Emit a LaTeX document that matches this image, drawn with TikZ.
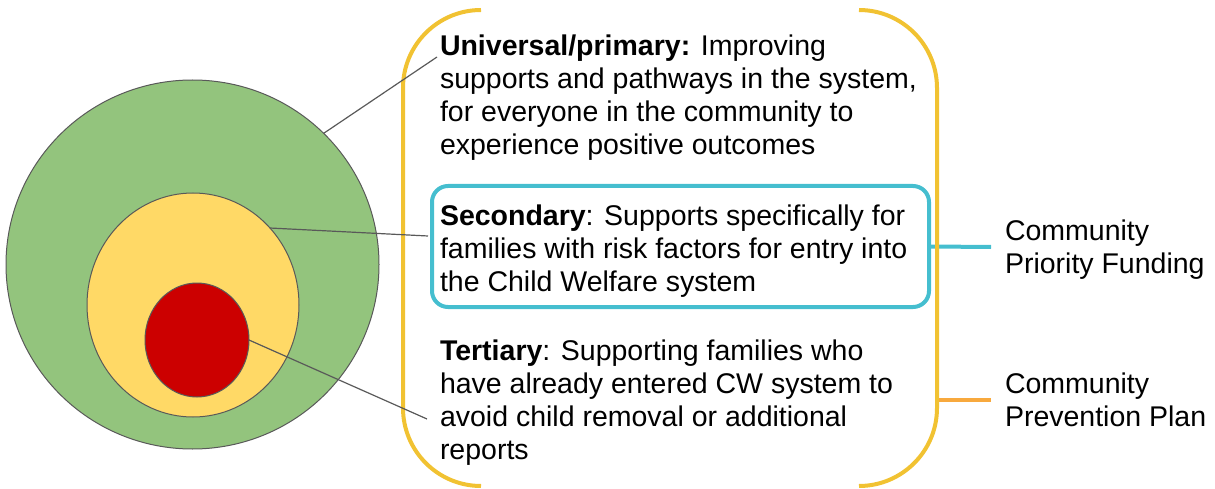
\documentclass[tikz,border=0pt]{standalone}
\usepackage{fontspec}
\setmainfont{Liberation Sans}
\usetikzlibrary{shapes.geometric}
\definecolor{cgreen}{HTML}{93C47D}
\definecolor{cyellow}{HTML}{FFD966}
\definecolor{cred}{HTML}{CC0000}
\definecolor{cedge}{HTML}{595959}
\definecolor{cbracket}{HTML}{F1C232}
\definecolor{cteal}{HTML}{45BECF}
\definecolor{corange}{HTML}{F8A93E}
\begin{document}
\begin{tikzpicture}[x=1pt,y=-1pt,
  ring/.style={ellipse, draw=cedge, line width=1pt, inner sep=0pt, outer sep=0pt},
  conn/.style={draw=cedge, line width=1.2pt},
  txt/.style={anchor=north west, inner sep=0pt, outer sep=0pt, align=left, font=\fontsize{28.5}{33}\selectfont, text=black},
  brace/.style={draw=cbracket, line width=4pt, rounded corners=78pt},
  ]
\useasboundingbox (0,0) rectangle (1215,489);
% nested circles
\node[ring, fill=cgreen, minimum width=373pt, minimum height=369pt] (green) at (192.5,264.5) {};
\node[ring, fill=cyellow, minimum width=212pt, minimum height=224pt] (yellow) at (193,305) {};
\node[ring, fill=cred, minimum width=104pt, minimum height=114pt] (red) at (197,340) {};
% secondary box
\node[draw=cteal, line width=4pt, rounded corners=16pt, minimum width=497pt, minimum height=121pt, inner sep=0pt] (box) at (680.5,246.5) {};
% connectors to labels (under the bracket)
\coordinate (t1) at (991,247);
\coordinate (pb) at (937,400);
\coordinate (t2) at (991,400);
\draw[draw=cteal, line width=4pt] (box.east) -- (t1);
\draw[draw=corange, line width=4pt] (pb) -- (t2);
% brackets
\draw[brace] (481,10) -- (403,10) -- (403,486) -- (481,486);
\draw[brace] (859,10) -- (937,10) -- (937,486) -- (859,486);
% texts
\node[txt] (uni) at (440,35) {\textbf{Universal/primary:} Improving\\supports and pathways in the system,\\for everyone in the community to\\experience positive outcomes};
\node[txt] (sec) at (440,205) {\textbf{Secondary}: Supports specifically for\\families with risk factors for entry into\\the Child Welfare system};
\node[txt] (ter) at (440,340) {\textbf{Tertiary}: Supporting families who\\have already entered CW system to\\avoid child removal or additional\\reports};
\node[txt] (cpf) at (1005,220) {Community\\Priority Funding};
\node[txt] (cpp) at (1005,373) {Community\\Prevention Plan};
% connectors from rings
\coordinate (e1) at (437,57);
\coordinate (e2) at (428,236);
\coordinate (e3) at (427,419);
\draw[conn] (green.45) -- (e1);
\draw[conn] (yellow.45) -- (e2);
\draw[conn] (red.east) -- (e3);
\end{tikzpicture}
\end{document}
